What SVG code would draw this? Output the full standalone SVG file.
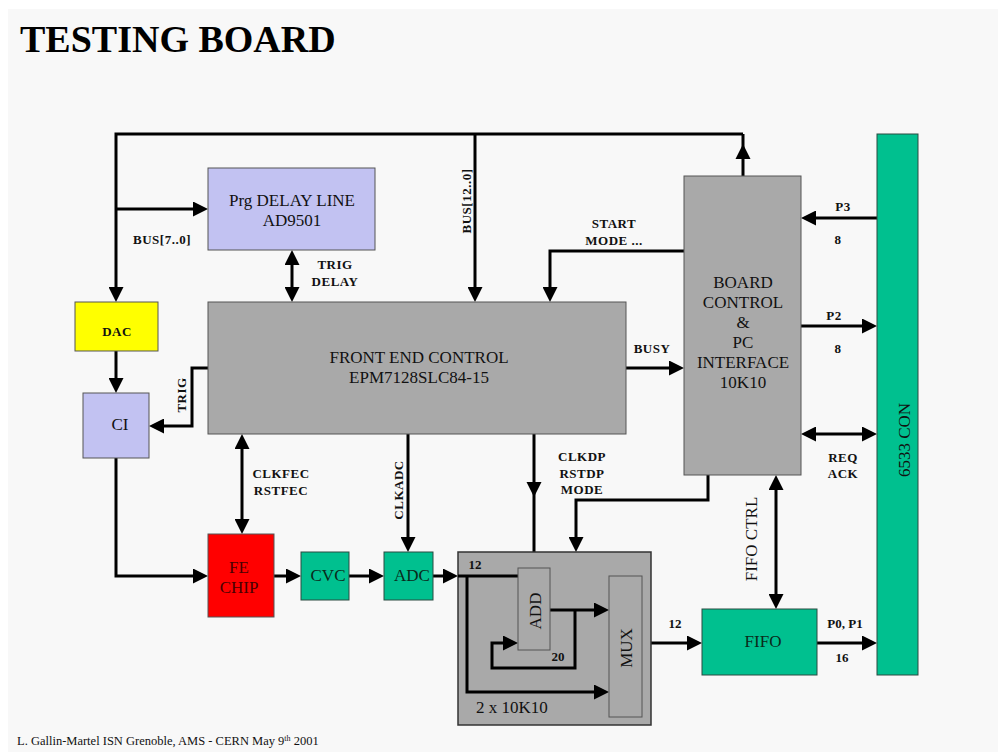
<svg xmlns="http://www.w3.org/2000/svg" width="998" height="752" viewBox="0 0 998 752">
<defs>
<marker id="a" viewBox="0 0 15 15" refX="9" refY="7.5" markerWidth="15" markerHeight="15" markerUnits="userSpaceOnUse" orient="auto-start-reverse">
<path d="M0,0 L15,7.5 L0,15 z" fill="#000"/>
</marker>
</defs>
<style>
.c{fill:none;stroke:#000;stroke-width:3}
.e{marker-end:url(#a)}
.b{marker-start:url(#a);marker-end:url(#a)}
.g{fill:#a9a9a9;stroke:#555;stroke-width:1}
.v{fill:#c2c2f2;stroke:#555;stroke-width:1}
.gr{fill:#00c08f;stroke:#2a4a40;stroke-width:1}
.t{font-family:"Liberation Serif","Times New Roman",serif;font-size:17px;fill:#111;text-anchor:middle}
.l{font-family:"Liberation Serif","Times New Roman",serif;font-size:13px;font-weight:bold;letter-spacing:0.5px;fill:#111;text-anchor:middle}
</style>
<rect x="8" y="9" width="990" height="743" fill="#f8f8f8"/>
<text x="20" y="52" font-family="Liberation Serif,Times New Roman,serif" font-size="38" font-weight="bold" fill="#000">TESTING BOARD</text>

<g id="connectors">
<path class="c e" d="M743,134 L116,134 L116,296"/>
<path class="c" d="M743,176 L743,134"/>
<polygon points="735.5,159 750.5,159 743,144" fill="#000"/>
<path class="c e" d="M116,209 L202,209"/>
<path class="c b" d="M292,256 L292,296"/>
<path class="c e" d="M475,134 L475,296"/>
<path class="c e" d="M684,251 L550,251 L550,296"/>
<path class="c e" d="M116,351 L116,387"/>
<path class="c e" d="M208,368 L192,368 L192,426 L155,426"/>
<path class="c e" d="M626,368 L678,368"/>
<path class="c e" d="M877,218 L807,218"/>
<path class="c e" d="M801,326 L871,326"/>
<path class="c b" d="M807,434 L871,434"/>
<path class="c b" d="M776,481 L776,603"/>
<path class="c e" d="M817,643 L871,643"/>
<path class="c e" d="M708,475 L708,500 L576,500 L576,546"/>
<path class="c" d="M534,434 L534,552"/>
<polygon points="526.5,482 541.5,482 534,497" fill="#000"/>
<path class="c e" d="M408,434 L408,546"/>
<path class="c b" d="M242,440 L242,528"/>
<path class="c e" d="M116,458 L116,576 L202,576"/>
<path class="c e" d="M274,576 L295,576"/>
<path class="c e" d="M349,576 L378,576"/>
<path class="c e" d="M433,576 L452,576"/>
<path class="c e" d="M651,643 L696,643"/>
</g>

<g id="delay">
<rect class="v" x="208" y="168" width="167" height="82"/>
<text class="t" x="292" y="206">Prg DELAY LINE</text>
<text class="t" x="292" y="226">AD9501</text>
</g>
<g id="dac">
<rect x="75" y="302" width="83" height="49" fill="#ffff00" stroke="#555" stroke-width="1"/>
<text class="l" x="117" y="336">DAC</text>
</g>
<g id="ci">
<rect class="v" x="83" y="393" width="66" height="65"/>
<text class="t" x="120" y="430" font-size="18">CI</text>
</g>
<g id="fec">
<rect class="g" x="208" y="302" width="418" height="132"/>
<text class="t" x="419" y="363">FRONT END CONTROL</text>
<text class="t" x="419" y="383">EPM7128SLC84-15</text>
</g>
<g id="board">
<rect class="g" x="684" y="176" width="117" height="299"/>
<text class="t" x="743" y="288">BOARD</text>
<text class="t" x="743" y="308">CONTROL</text>
<text class="t" x="743" y="328">&amp;</text>
<text class="t" x="743" y="348">PC</text>
<text class="t" x="743" y="368">INTERFACE</text>
<text class="t" x="743" y="388">10K10</text>
</g>
<g id="con">
<rect class="gr" x="877" y="134" width="41" height="541"/>
<text class="t" transform="translate(910,440) rotate(-90)">6533 CON</text>
</g>
<g id="fe">
<rect x="208" y="534" width="66" height="83" fill="#ff0000" stroke="#555" stroke-width="1"/>
<text class="t" x="239" y="573" style="fill:#4a0000">FE</text>
<text class="t" x="239" y="593" style="fill:#4a0000">CHIP</text>
</g>
<g id="cvc">
<rect class="gr" x="301" y="552" width="48" height="48"/>
<text class="t" x="328" y="581" style="fill:#0a2a1a">CVC</text>
</g>
<g id="adc">
<rect class="gr" x="384" y="552" width="49" height="48"/>
<text class="t" x="412" y="581" style="fill:#0a2a1a">ADC</text>
</g>
<g id="dp">
<rect x="458" y="552" width="193" height="173" fill="#a9a9a9" stroke="#333" stroke-width="1.5"/>
<path class="c" d="M458,576 L518,576"/>
<path class="c e" d="M467,576 L467,692 L603,692"/>
<path class="c e" d="M550,610 L603,610"/>
<path class="c e" d="M575,610 L575,668 L492,668 L492,643 L512,643"/>
<g id="add">
<rect class="g" x="518" y="568" width="32" height="82" stroke="#333"/>
<text class="t" transform="translate(541,611) rotate(-90)">ADD</text>
</g>
<g id="mux">
<rect class="g" x="609" y="576" width="33" height="141" stroke="#333"/>
<text class="t" transform="translate(632,648) rotate(-90)">MUX</text>
</g>
<text class="l" x="475" y="569" style="letter-spacing:0">12</text>
<text class="l" x="558" y="661" style="letter-spacing:0">20</text>
<text class="t" x="476" y="713" style="text-anchor:start">2 x 10K10</text>
</g>
<g id="fifo">
<rect class="gr" x="702" y="609" width="115" height="66"/>
<text class="t" x="763" y="647" style="fill:#0a2a1a">FIFO</text>
</g>

<g id="labels">
<text class="l" x="162" y="244">BUS[7..0]</text>
<text class="l" x="335" y="269">TRIG</text>
<text class="l" x="335" y="286">DELAY</text>
<text class="l" transform="translate(471,201) rotate(-90)">BUS[12..0]</text>
<text class="l" x="614" y="228">START</text>
<text class="l" x="614" y="245">MODE ...</text>
<text class="l" transform="translate(186,395) rotate(-90)">TRIG</text>
<text class="l" x="652" y="353">BUSY</text>
<text class="l" x="843" y="211">P3</text>
<text class="l" x="838" y="244">8</text>
<text class="l" x="834" y="320">P2</text>
<text class="l" x="838" y="353">8</text>
<text class="l" x="843" y="462">REQ</text>
<text class="l" x="843" y="478">ACK</text>
<text class="t" transform="translate(757,539) rotate(-90)">FIFO CTRL</text>
<text class="l" x="845" y="628" style="letter-spacing:0">P0, P1</text>
<text class="l" x="842" y="662" style="letter-spacing:0">16</text>
<text class="l" x="281" y="478">CLKFEC</text>
<text class="l" x="281" y="495">RSTFEC</text>
<text class="l" transform="translate(403,490) rotate(-90)">CLKADC</text>
<text class="l" x="582" y="461">CLKDP</text>
<text class="l" x="582" y="478">RSTDP</text>
<text class="l" x="582" y="494">MODE</text>
<text class="l" x="675" y="628" style="letter-spacing:0">12</text>
</g>
<text x="17" y="745" font-family="Liberation Serif,Times New Roman,serif" font-size="12.5" fill="#111">L. Gallin-Martel  ISN Grenoble, AMS - CERN May 9<tspan font-size="8" dy="-4">th</tspan><tspan dy="4"> 2001</tspan></text>
</svg>
